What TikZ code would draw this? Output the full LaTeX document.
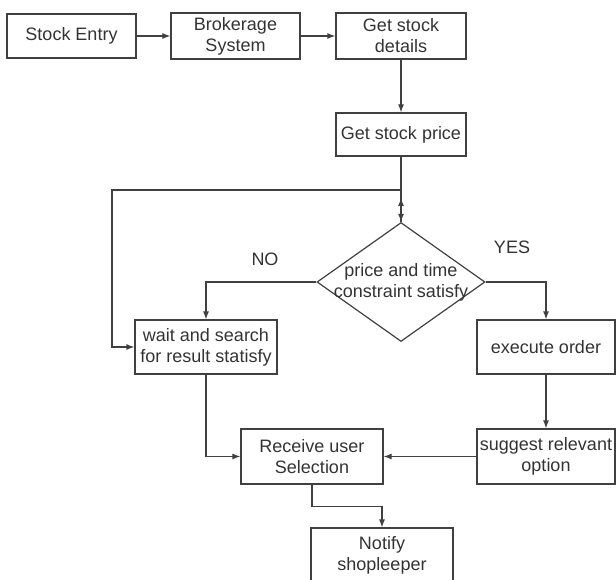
\documentclass[tikz,border=0pt]{standalone}
\usepackage{fontspec}
\setmainfont{Liberation Sans}
\usetikzlibrary{shapes.geometric,arrows.meta}

\tikzset{
  box/.style={draw=black!75, line width=1.2pt, text=black!80, align=center,
    inner sep=0pt, minimum width=130pt, minimum height=46pt},
  dec/.style={draw=black!75, line width=1.2pt, diamond, inner sep=0pt,
    minimum width=168pt, minimum height=119pt},
  conn/.style={draw=black!75, line width=1.2pt, -{Latex[length=8pt,width=6pt]}},
  lbl/.style={text=black!80}
}

\begin{document}
\begin{tikzpicture}[x=1pt,y=-1pt,font=\fontsize{18}{21}\selectfont]
	\useasboundingbox (0,0) rectangle (616,580);

	% top row
	\node[box, minimum width=129pt, minimum height=44pt] (entry) at (71.5,36) {Stock Entry};
	\node[box, minimum width=129pt] (broker) at (235.5,36) {Brokerage\\System};
	\node[box] (details) at (401,36) {Get stock\\details};
	\node[box, minimum height=43pt] (price) at (401,134.5) {Get stock price};

	% decision
	\node[dec] (dec) at (401,282) {};
	\node[lbl, align=center] (dectext) at (dec) {price and time\\constraint satisfy};
	\node[lbl] (no) at (265,259) {NO};
	\node[lbl] (yes) at (512,247) {YES};

	% branches
	\node[box, minimum width=142pt, minimum height=54pt] (wait) at (206,347) {wait and search\\for result statisfy};
	\node[box, minimum width=138pt, minimum height=54pt] (exec) at (546,347) {execute order};
	\node[box, minimum width=138pt, minimum height=55pt] (suggest) at (546,456.5) {suggest relevant\\option};
	\node[box, minimum width=142pt, minimum height=55pt] (recv) at (312,456.5) {Receive user\\Selection};
	\node[box, minimum width=142pt, minimum height=54pt] (notify) at (382,555) {Notify\\shopleeper};

	\coordinate (split) at (401,190);
	\coordinate (loop) at (112,190);
	\coordinate (uptip) at (401,198);

	% connectors
	\draw[conn] (entry) -- (broker);
	\draw[conn] (broker) -- (details);
	\draw[conn] (details) -- (price);
	\draw[conn] (price) -- (dec.north);
	\draw[conn] (dec.north) -- (uptip);
	\draw[conn] (split) -- (loop) |- (wait.west);
	\draw[conn] (dec.west) -| (wait.north);
	\draw[conn] (dec.east) -| (exec.north);
	\draw[conn] (exec) -- (suggest);
	\draw[conn] (suggest) -- (recv);
	\draw[conn] (wait.south) |- (recv.west);
	\draw[conn] (recv.south) -- ++(0,22) -| (notify.north);
\end{tikzpicture}
\end{document}
